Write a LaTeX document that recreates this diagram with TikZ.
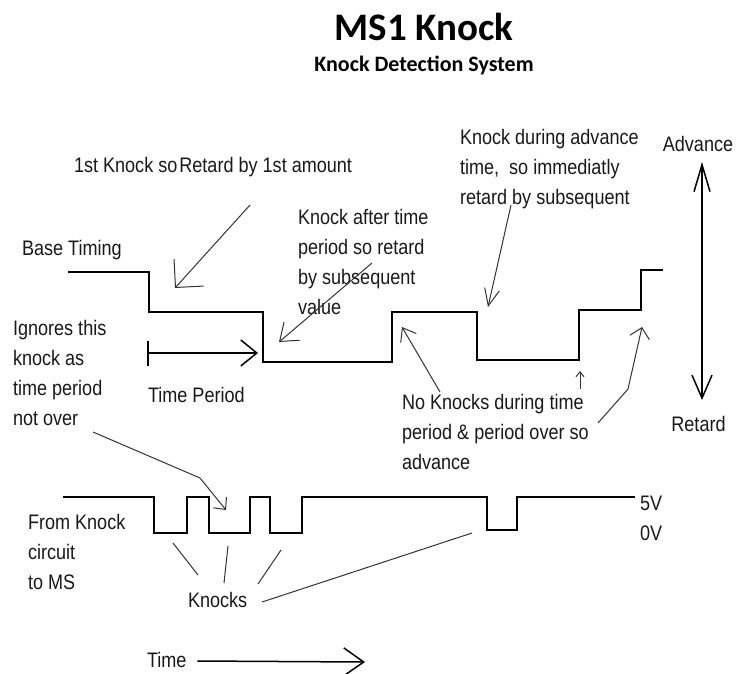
\documentclass[tikz,border=0pt]{standalone}
\usepackage{fontspec}
\usetikzlibrary{arrows.meta}
\newfontfamily\lblfamily{Liberation Sans}[FakeStretch=0.86]
\newfontfamily\ttlfamily{Carlito}
\newcommand{\lblfont}{\lblfamily\fontsize{21}{30}\selectfont}
\begin{document}
\begin{tikzpicture}[x=1pt,y=-1pt,
  lbl/.style={anchor=north west, inner sep=0pt, outer sep=0pt, align=left, font=\lblfont, text=black!90, execute at begin node=\strut},
  wave/.style={line width=2pt, black, line join=miter},
  note/.style={line width=1pt, black!80},
  tiptiny/.style={-{Straight Barb[length=5pt,width=8pt]}},
]
\useasboundingbox (0,0) rectangle (746,673);
\fill[white] (0,0) rectangle (746,673);

% titles
\node[font=\ttlfamily\bfseries\fontsize{39}{42}\selectfont, anchor=base, inner sep=0pt] (title) at (424,40) {MS1 Knock};
\node[font=\ttlfamily\bfseries\fontsize{22}{24}\selectfont, anchor=base, inner sep=0pt] (subtitle) at (424,71) {Knock Detection System};

% labels
\node[lbl] (base) at (22,234.5) {Base Timing};
\node[lbl] (first) at (74,151) {1st Knock so\kern2pt Retard by 1st amount};
\node[lbl] (after) at (298,209) {Knock after time\\period so retard\\by subsequent\\value};
\node[lbl] (during) at (460,129) {Knock during advance\\time,\ \ so immediatly\\retard by subsequent};
\node[lbl, anchor=north] (adv) at (698,130) {Advance};
\node[lbl, anchor=north] (ret) at (698.5,410) {Retard};
\node[lbl] (ignores) at (13,320) {Ignores this\\knock as\\time period\\not over};
\node[lbl] (tperiod) at (148,381) {Time Period};
\node[lbl] (noknock) at (402,394) {No Knocks during time\\period \& period over so\\advance};
\node[lbl] (from) at (28,514) {From Knock\\circuit\\to MS};
\node[lbl] (volt) at (640,496) {5V\\0V};
\node[lbl] (knocks) at (188,586) {Knocks};
\node[lbl] (time) at (147,646) {Time};

% base timing waveform
\draw[wave] (68,272) -- (149,272) -- (149,312) -- (263,312) -- (263,361.5)
  -- (392,361.5) -- (392,312) -- (477,312) -- (477,360) -- (579,360)
  -- (579,309.5) -- (641,309.5) -- (641,269.5) -- (663,269.5);

% knock signal waveform
\draw[wave] (63,497) -- (154,497) -- (154,533) -- (187,533) -- (187,497)
  -- (209,497) -- (209,533) -- (250,533) -- (250,497) -- (270,497)
  -- (270,533) -- (302,533) -- (302,497) -- (487,497) -- (487,529.5)
  -- (517,529.5) -- (517,497) -- (635,497);

% coordinates for annotation connectors
\coordinate (c1s) at (250,205);   \coordinate (c1t) at (175,288);
\coordinate (c2s) at (372,263);   \coordinate (c2t) at (279,342);
\coordinate (c3s) at (511,205);   \coordinate (c3t) at (488,307);
\coordinate (c4s) at (440,392);   \coordinate (c4t) at (402,327);
\coordinate (c5s) at (580,389);   \coordinate (c5t) at (580,371);
\coordinate (c6s) at (598,423);   \coordinate (c6m) at (628,389);   \coordinate (c6t) at (642,327);
\coordinate (c7s) at (93,432);    \coordinate (c7m) at (200,478);   \coordinate (c7t) at (226,510);
\coordinate (tpl) at (147,353);   \coordinate (tpr) at (258,353);
\coordinate (timeend) at (365,662);
\coordinate (k1a) at (198,575);   \coordinate (k1b) at (173,543);
\coordinate (k2a) at (224,583);   \coordinate (k2b) at (228,546);
\coordinate (k3a) at (258,584);   \coordinate (k3b) at (281,550);
\coordinate (k4a) at (262,602);   \coordinate (k4b) at (472,533);

% annotation arrows
\draw[note, -{Straight Barb[length=20pt,width=40pt]}] (c1s) -- (c1t);
\draw[note, -{Straight Barb[length=16pt,width=24pt]}] (c2s) -- (c2t);
\draw[note, -{Straight Barb[length=17pt,width=15pt]}] (c3s) -- (c3t);
\draw[note, -{Straight Barb[length=12pt,width=18pt]}] (c4s) -- (c4t);
\draw[note, tiptiny] (c5s) -- (c5t);
\draw[note, -{Straight Barb[length=10pt,width=20pt]}] (c6s) -- (c6m) -- (c6t);
\draw[note, -{Straight Barb[length=9pt,width=17pt]}] (c7s) -- (c7m) -- (c7t);

% time period arrow
\draw[line width=1.5pt, {Bar[width=25pt]}-{Straight Barb[length=16pt,width=26pt]}] (tpl) -- (tpr);

% time arrow
\draw[line width=1.5pt, -{Straight Barb[length=20pt,width=28pt]}] ([xshift=11pt]time.east) -- (timeend);

% advance / retard arrow
\draw[line width=1.5pt, {Straight Barb[length=27pt,width=16pt]}-{Straight Barb[length=23pt,width=20pt]},
  shorten <=2pt, shorten >=10pt] ([xshift=4pt]adv.south) -- ([xshift=3.5pt]ret.north);

% knocks pointers
\draw[note] (k1a) -- (k1b);
\draw[note] (k2a) -- (k2b);
\draw[note] (k3a) -- (k3b);
\draw[note] (k4a) -- (k4b);
\end{tikzpicture}
\end{document}
